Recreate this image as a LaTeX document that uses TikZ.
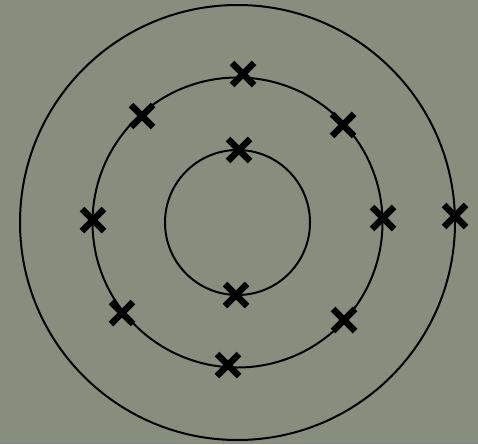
\documentclass[tikz,border=0pt]{standalone}
\definecolor{sfondo}{RGB}{136,142,126}
\begin{document}
\begin{tikzpicture}[x=1pt,y=-1pt,
  cerchio/.style={line width=2pt, black},
  croce/.style={line width=6.5pt, black}]
  % Sfondo
  \fill[sfondo] (0,0) rectangle (478,444);
  \useasboundingbox (0,0) rectangle (478,444);

  % Cerchi concentrici
  \coordinate (centro) at (237.5,222.5);
  \draw[cerchio] (centro) circle (217.5);
  \draw[cerchio] (centro) circle (145);
  \draw[cerchio] (centro) circle (72.5);

  % Croci
  \foreach \x/\y in {243/74, 142/116, 343/125, 239/150, 93/220, 383/218,
                     455/216, 236/295, 122/313, 344/320, 228/365}
    \draw[croce] (\x-11,\y-11) -- (\x+11,\y+11)
                 (\x-11,\y+11) -- (\x+11,\y-11);
\end{tikzpicture}
\end{document}
